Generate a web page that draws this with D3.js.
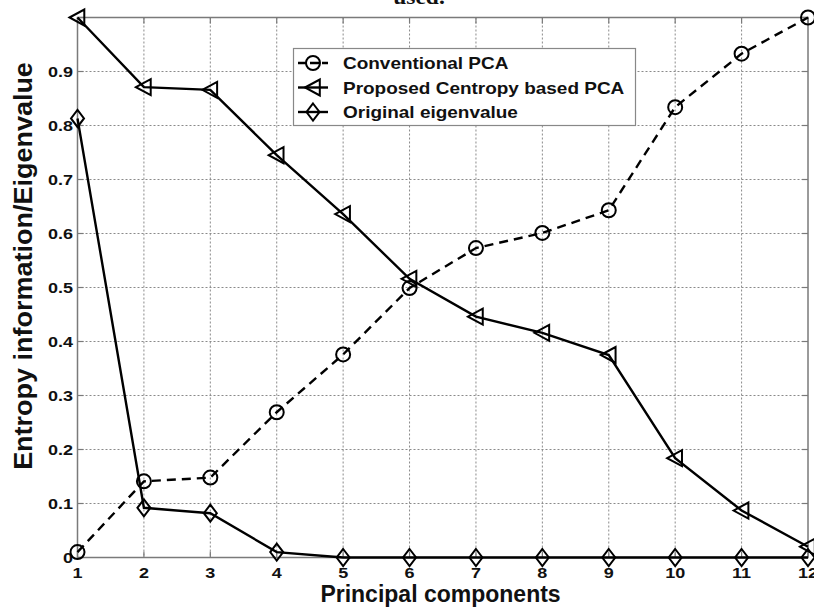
<!DOCTYPE html>
<html>
<head>
<meta charset="utf-8">
<script src="https://cdn.jsdelivr.net/npm/d3@7"></script>
<style>
  html, body { margin: 0; padding: 0; background: #fff; }
  svg { display: block; }
</style>
</head>
<body>
<script>
// ---- data ----
const components = [1, 2, 3, 4, 5, 6, 7, 8, 9, 10, 11, 12];
const conventionalPCA = [0.01, 0.141, 0.148, 0.269, 0.376, 0.499, 0.573, 0.601, 0.643, 0.834, 0.933, 1.0];
const centropyPCA = [1.0, 0.871, 0.866, 0.745, 0.636, 0.516, 0.446, 0.416, 0.375, 0.184, 0.087, 0.02];
const originalEigenvalue = [0.813, 0.092, 0.082, 0.01, 0, 0, 0, 0, 0, 0, 0, 0];
const yTicks = [0, 0.1, 0.2, 0.3, 0.4, 0.5, 0.6, 0.7, 0.8, 0.9, 1.0];
const yTickLabels = ["0", "0.1", "0.2", "0.3", "0.4", "0.5", "0.6", "0.7", "0.8", "0.9", ""];
const seriesNames = ["Conventional PCA", "Proposed Centropy based PCA", "Original eigenvalue"];
const xLabel = "Principal components";
const yLabel = "Entropy information/Eigenvalue";
const titleText = "used.";

const W = 814, H = 609;
const svg = d3.select("body").append("svg").attr("width", W).attr("height", H);

const x = d3.scaleLinear().domain([1, 12]).range([77.5, 808]);
const y = d3.scaleLinear().domain([0, 1]).range([557.5, 17.5]);

const FONT = "'Liberation Sans', Arial, Helvetica, sans-serif";

// title fragment (cropped at the top)
svg.append("text")
  .attr("transform", `translate(419,4) scale(1.12,1)`)
  .attr("text-anchor", "middle")
  .attr("font-family", "'Liberation Serif', 'Times New Roman', serif")
  .attr("font-weight", "bold")
  .attr("font-size", 21)
  .attr("fill", "#111")
  .text(titleText);

// grid
const grid = svg.append("g");
components.slice(1, -1).forEach(c => {
  grid.append("line").attr("x1", x(c)).attr("x2", x(c)).attr("y1", y(1)).attr("y2", y(0))
    .attr("stroke", "#8a8a8a").attr("stroke-width", 1).attr("stroke-dasharray", "2,2");
});
yTicks.slice(1, -1).forEach(t => {
  grid.append("line").attr("x1", x(1)).attr("x2", x(12)).attr("y1", y(t)).attr("y2", y(t))
    .attr("stroke", "#8a8a8a").attr("stroke-width", 1).attr("stroke-dasharray", "2,2");
});

// frame
svg.append("rect").attr("x", x(1)).attr("y", y(1)).attr("width", x(12) - x(1)).attr("height", y(0) - y(1))
  .attr("fill", "none").attr("stroke", "#7a7a7a").attr("stroke-width", 1.5);

// inward ticks
const tk = svg.append("g").attr("stroke", "#7a7a7a").attr("stroke-width", 1.2);
components.forEach(c => {
  tk.append("line").attr("x1", x(c)).attr("x2", x(c)).attr("y1", y(0)).attr("y2", y(0) - 6);
  tk.append("line").attr("x1", x(c)).attr("x2", x(c)).attr("y1", y(1)).attr("y2", y(1) + 6);
});
yTicks.forEach(t => {
  tk.append("line").attr("x1", x(1)).attr("x2", x(1) + 6).attr("y1", y(t)).attr("y2", y(t));
  tk.append("line").attr("x1", x(12)).attr("x2", x(12) - 6).attr("y1", y(t)).attr("y2", y(t));
});

// tick labels
const TS = 1.2;
components.forEach(c => {
  svg.append("text")
    .attr("transform", `translate(${x(c)},578) scale(${TS},1)`)
    .attr("text-anchor", "middle").attr("font-family", FONT).attr("font-weight", "bold")
    .attr("font-size", 15).attr("fill", "#111").text(c);
});
yTicks.forEach((t, i) => {
  svg.append("text")
    .attr("transform", `translate(73,${y(t) + 5.5}) scale(${TS},1)`)
    .attr("text-anchor", "end").attr("font-family", FONT).attr("font-weight", "bold")
    .attr("font-size", 15).attr("fill", "#111").text(yTickLabels[i]);
});

// axis labels
svg.append("text")
  .attr("transform", `translate(440.5,602)`)
  .attr("text-anchor", "middle").attr("font-family", FONT).attr("font-weight", "bold")
  .attr("font-size", 23).attr("fill", "#111").text(xLabel);
svg.append("text")
  .attr("transform", `translate(32,266) rotate(-90) scale(1.08,1)`)
  .attr("text-anchor", "middle").attr("font-family", FONT).attr("font-weight", "bold")
  .attr("font-size", 25).attr("fill", "#111").text(yLabel);

// markers
function circleM(g, cx, cy) {
  g.append("circle").attr("cx", cx).attr("cy", cy).attr("r", 7)
    .attr("fill", "none").attr("stroke", "#000").attr("stroke-width", 2);
}
function triM(g, cx, cy) {
  const s = 8;
  g.append("path").attr("d", `M${cx - s},${cy} L${cx + s * 0.85},${cy - s} L${cx + s * 0.85},${cy + s} Z`)
    .attr("fill", "none").attr("stroke", "#000").attr("stroke-width", 2).attr("stroke-linejoin", "miter");
}
function diaM(g, cx, cy) {
  const w = 6.5, h = 8.5;
  g.append("path").attr("d", `M${cx},${cy - h} L${cx + w},${cy} L${cx},${cy + h} L${cx - w},${cy} Z`)
    .attr("fill", "none").attr("stroke", "#000").attr("stroke-width", 2);
}

const line = d3.line().x((d, i) => x(components[i])).y(d => y(d));
const series = [
  { vals: conventionalPCA, dash: "9,6", marker: circleM },
  { vals: centropyPCA, dash: null, marker: triM },
  { vals: originalEigenvalue, dash: null, marker: diaM }
];
const plot = svg.append("g");
series.forEach(s => {
  plot.append("path").attr("d", line(s.vals)).attr("fill", "none").attr("stroke", "#000")
    .attr("stroke-width", 2.4).attr("stroke-dasharray", s.dash);
});
series.forEach(s => {
  s.vals.forEach((v, i) => s.marker(plot, x(components[i]), y(v)));
});

// legend
const lg = svg.append("g");
lg.append("rect").attr("x", 293.5).attr("y", 48.5).attr("width", 342).attr("height", 77)
  .attr("fill", "#fff").attr("stroke", "#888").attr("stroke-width", 1.2);
const rowsY = [63, 87.5, 112];
series.forEach((s, i) => {
  const yy = rowsY[i];
  lg.append("line").attr("x1", 298).attr("x2", 328).attr("y1", yy).attr("y2", yy)
    .attr("stroke", "#000").attr("stroke-width", 2.4).attr("stroke-dasharray", s.dash ? "9,3" : null);
  s.marker(lg, 313, yy);
  lg.append("text")
    .attr("transform", `translate(343,${yy + 6}) scale(1.15,1)`)
    .attr("font-family", FONT).attr("font-weight", "bold").attr("font-size", 16.5)
    .attr("fill", "#111").text(seriesNames[i]);
});
</script>
</body>
</html>
